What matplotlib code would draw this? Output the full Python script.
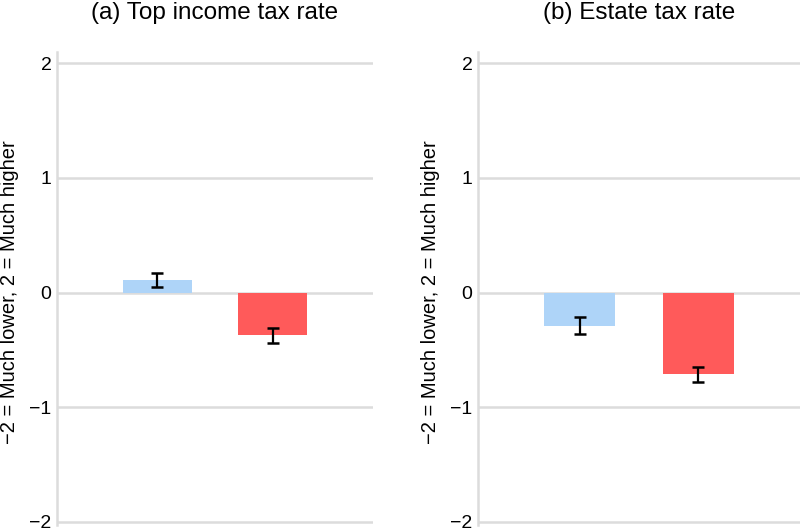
import matplotlib
matplotlib.use("Agg")
import matplotlib.pyplot as plt

plt.rcParams['font.family'] = ['Liberation Sans', 'DejaVu Sans']

titles = ["(a) Top income tax rate", "(b) Estate tax rate"]
values = [[0.11, -0.375], [-0.29, -0.71]]
err_lo = [[0.05, -0.44], [-0.36, -0.78]]
err_hi = [[0.17, -0.31], [-0.21, -0.65]]
yticks = [-2, -1, 0, 1, 2]
ylabel = "\u22122 = Much lower, 2 = Much higher"
colors = ['#aed4f8', '#ff5a5a']

W, H = 800, 530
fig = plt.figure(figsize=(8, 5.3), dpi=100)

# panel geometry in pixels: left spine x, width
panels = [(57, 316), (478, 322)]
xlims = [(-0.87, 1.87), (-0.86, 1.857)]
title_x = [214.5, 639]
label_x = [10, 430]

for k in range(2):
    x0, w = panels[k]
    ax = fig.add_axes([x0 / W, 5 / H, w / W, 473 / H])
    xs = [0, 1]
    ax.bar(xs, values[k], width=0.6, color=colors, zorder=2)
    lo = [values[k][i] - err_lo[k][i] for i in range(2)]
    hi = [err_hi[k][i] - values[k][i] for i in range(2)]
    ax.errorbar(xs, values[k], yerr=[lo, hi], fmt='none', ecolor='black',
                elinewidth=1.6, capsize=4, capthick=1.8, zorder=3)
    ax.set_ylim(-2.03, 2.1)
    ax.set_xlim(*xlims[k])
    ax.set_yticks(yticks)
    ax.set_yticklabels([str(t).replace('-', '\u2212') for t in yticks], fontsize=14)
    ax.set_xticks([])
    ax.yaxis.grid(True, color='#dcdcdc', linewidth=1.8, zorder=0)
    ax.set_axisbelow(True)
    for s in ['top', 'right', 'bottom']:
        ax.spines[s].set_visible(False)
    ax.spines['left'].set_color('#dcdcdc')
    ax.spines['left'].set_linewidth(1.8)
    ax.tick_params(axis='y', length=0, pad=4)

    fig.text(title_x[k] / W, 1 - 13 / H, titles[k], fontsize=17.5,
             ha='center', va='center')
    fig.text(label_x[k] / W, 1 - 292 / H, ylabel, fontsize=14.5, rotation=90,
             ha='center', va='center')

fig.savefig("out.png", dpi=100)
